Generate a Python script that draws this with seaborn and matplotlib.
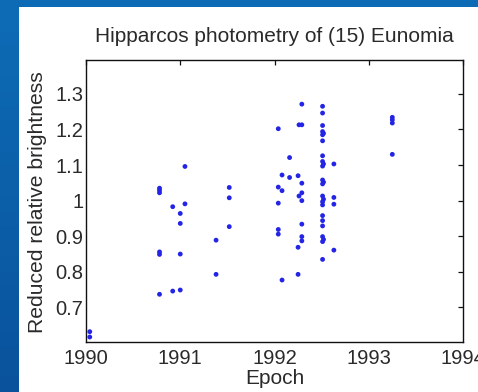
import numpy as np
import pandas as pd
import matplotlib
matplotlib.use("Agg")
import matplotlib.pyplot as plt
from matplotlib.patches import Rectangle
import seaborn as sns

# ---- data ----
epoch = [
    1990.04, 1990.04,
    1990.78, 1990.78, 1990.78, 1990.78, 1990.78, 1990.78,
    1990.92, 1990.92,
    1991.00, 1991.00, 1991.00, 1991.00,
    1991.05, 1991.05,
    1991.38, 1991.38,
    1991.52, 1991.52, 1991.52,
    1992.04, 1992.04, 1992.04, 1992.04, 1992.04,
    1992.08, 1992.08, 1992.08,
    1992.16, 1992.16,
    1992.25, 1992.25, 1992.25, 1992.26, 1992.26,
    1992.29, 1992.29, 1992.29, 1992.29, 1992.29, 1992.29, 1992.29, 1992.29,
    1992.51, 1992.51, 1992.51, 1992.51, 1992.52, 1992.51, 1992.51, 1992.51,
    1992.51, 1992.52, 1992.51, 1992.51, 1992.52, 1992.51, 1992.51, 1992.52,
    1992.51, 1992.51, 1992.51, 1992.51, 1992.51, 1992.51, 1992.52, 1992.51,
    1992.51,
    1992.63, 1992.63, 1992.63, 1992.63,
    1993.25, 1993.25, 1993.25, 1993.25,
]
brightness = [
    0.632, 0.617,
    1.035, 1.029, 1.022, 0.856, 0.849, 0.737,
    0.983, 0.746,
    0.964, 0.936, 0.850, 0.749,
    1.096, 0.991,
    0.889, 0.793,
    1.037, 1.008, 0.927,
    1.202, 1.038, 0.993, 0.919, 0.906,
    1.028, 1.072, 0.777,
    1.121, 1.065,
    1.070, 0.869, 0.793, 1.213, 1.013,
    1.271, 1.213, 1.049, 1.022, 1.000, 0.934, 0.899, 0.887,
    1.265, 1.246, 1.211, 1.194, 1.189, 1.185, 1.168, 1.126,
    1.110, 1.103, 1.097, 1.058, 1.052, 1.047, 1.013, 1.004,
    0.997, 0.988, 0.958, 0.944, 0.929, 0.899, 0.891, 0.885,
    0.835,
    1.103, 1.009, 0.990, 0.861,
    1.234, 1.227, 1.218, 1.130,
]
x_ticks = [1990, 1991, 1992, 1993, 1994]
x_tick_labels = ["1990", "1991", "1992", "1993", "1994"]
y_ticks = [0.7, 0.8, 0.9, 1.0, 1.1, 1.2, 1.3]
y_tick_labels = ["0.7", "0.8", "0.9", "1", "1.1", "1.2", "1.3"]
title = "Hipparcos photometry of (15) Eunomia"
x_label = "Epoch"
y_label = "Reduced relative brightness"

df = pd.DataFrame({"Epoch": epoch, "Brightness": brightness})

sns.set_theme(style="white")
plt.rcParams["font.family"] = ["Liberation Sans", "DejaVu Sans"]

W, H = 478, 392
fig = plt.figure(figsize=(W / 100, H / 100), dpi=100)

# slide background (blue gradient) + white panel
bg = fig.add_axes([0, 0, 1, 1])
bg.set_axis_off()
top = np.array([14, 108, 182]) / 255.0
bot = np.array([10, 82, 156]) / 255.0
t = np.linspace(0, 1, 200)[:, None]
grad = (top[None, :] * (1 - t) + bot[None, :] * t)[:, None, :].repeat(2, axis=1)
bg.imshow(grad, extent=[0, 1, 0, 1], aspect="auto", origin="upper")
bg.add_patch(Rectangle((19 / W, 0), 1 - 19 / W, 1 - 7 / H,
                       transform=bg.transAxes, facecolor="white", edgecolor="none"))
bg.set_xlim(0, 1)
bg.set_ylim(0, 1)

ax = fig.add_axes([86 / W, 1 - 342 / H, (463 - 86) / W, (342 - 60) / H])
ax.set_facecolor("white")
sns.scatterplot(data=df, x="Epoch", y="Brightness", ax=ax, color="#2424e6",
                s=12, edgecolor="none", linewidth=0, zorder=3)

ax.set_xlim(1990, 1994)
ax.set_ylim(0.603, 1.395)
ax.set_xticks(x_ticks)
ax.set_xticklabels(x_tick_labels)
ax.set_yticks(y_ticks)
ax.set_yticklabels(y_tick_labels)
ax.set_xlabel("")
ax.set_ylabel("")
for s in ax.spines.values():
    s.set_visible(True)
    s.set_color("#111111")
    s.set_linewidth(1.0)
ax.tick_params(axis="both", direction="in", length=3.5, width=0.9, color="#111111",
               top=True, right=True, labelsize=14.5, labelcolor="#2a2a2a")
ax.tick_params(axis="x", pad=5)
ax.tick_params(axis="y", pad=2)
for lab in ax.get_xticklabels() + ax.get_yticklabels():
    lab.set_clip_on(False)

fig.text(274.5 / W, 1 - 42 / H, title, ha="center", va="baseline",
         fontsize=15, color="#2a2a2a")
fig.text(274.5 / W, 1 - 384 / H, x_label, ha="center", va="baseline",
         fontsize=15, color="#2a2a2a")
fig.text(38 / W, 1 - 202 / H, y_label, ha="center", va="center", rotation=90,
         fontsize=15.2, color="#2a2a2a")

fig.savefig("out.png", dpi=100)
